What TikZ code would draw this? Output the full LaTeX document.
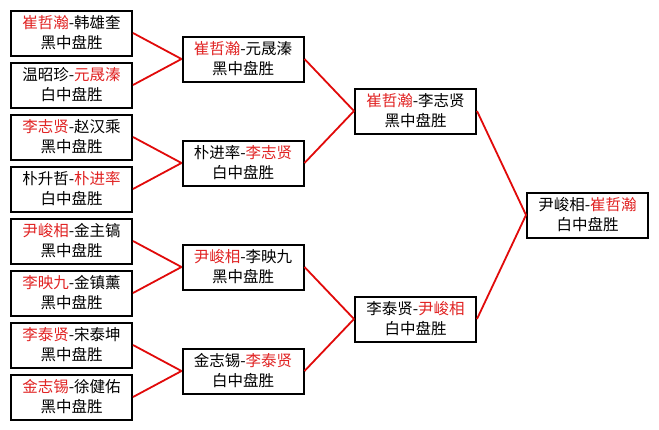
\documentclass[tikz,border=0pt]{standalone}
\usepackage{fontspec}
\newfontfamily\cjk{Noto Sans CJK SC}
\definecolor{wintext}{RGB}{225,35,35}
\definecolor{edgered}{RGB}{225,10,10}
\newcommand{\W}[1]{\textcolor{wintext}{#1}}
\tikzset{
  game/.style={draw=black, line width=2pt, minimum width=121pt, minimum height=45pt,
    inner sep=0pt, align=center, font=\cjk\fontsize{15.5pt}{20pt}\selectfont, fill=white},
  edge/.style={draw=edgered, line width=1.8pt}
}
\begin{document}
\begin{tikzpicture}[x=1pt, y=-1pt]
\useasboundingbox[fill=white] (0,0) rectangle (659,429);
% first round
\node[game] (L1) at (71.5,33)  {\W{崔哲瀚}-韩雄奎\\黑中盘胜};
\node[game] (L2) at (71.5,85)  {温昭珍-\W{元晟溱}\\白中盘胜};
\node[game] (L3) at (71.5,137) {\W{李志贤}-赵汉乘\\黑中盘胜};
\node[game] (L4) at (71.5,189) {朴升哲-\W{朴进率}\\白中盘胜};
\node[game] (L5) at (71.5,241) {\W{尹峻相}-金主镐\\黑中盘胜};
\node[game] (L6) at (71.5,293) {\W{李映九}-金镇薰\\黑中盘胜};
\node[game] (L7) at (71.5,345) {\W{李泰贤}-宋泰坤\\黑中盘胜};
\node[game] (L8) at (71.5,397) {\W{金志锡}-徐健佑\\黑中盘胜};
% second round
\node[game] (A) at (243,59)  {\W{崔哲瀚}-元晟溱\\黑中盘胜};
\node[game] (B) at (243,163) {朴进率-\W{李志贤}\\白中盘胜};
\node[game] (C) at (243,267) {\W{尹峻相}-李映九\\黑中盘胜};
\node[game] (D) at (243,371) {金志锡-\W{李泰贤}\\白中盘胜};
% semi-final
\node[game] (E) at (415.5,111) {\W{崔哲瀚}-李志贤\\黑中盘胜};
\node[game] (F) at (415.5,319) {李泰贤-\W{尹峻相}\\白中盘胜};
% final
\node[game] (G) at (587.5,215) {尹峻相-\W{崔哲瀚}\\白中盘胜};
% connectors
\draw[edge] (L1.east) -- (A.west);
\draw[edge] (L2.east) -- (A.west);
\draw[edge] (L3.east) -- (B.west);
\draw[edge] (L4.east) -- (B.west);
\draw[edge] (L5.east) -- (C.west);
\draw[edge] (L6.east) -- (C.west);
\draw[edge] (L7.east) -- (D.west);
\draw[edge] (L8.east) -- (D.west);
\draw[edge] (A.east) -- (E.west);
\draw[edge] (B.east) -- (E.west);
\draw[edge] (C.east) -- (F.west);
\draw[edge] (D.east) -- (F.west);
\draw[edge] (E.east) -- (G.west);
\draw[edge] (F.east) -- (G.west);
\end{tikzpicture}
\end{document}
